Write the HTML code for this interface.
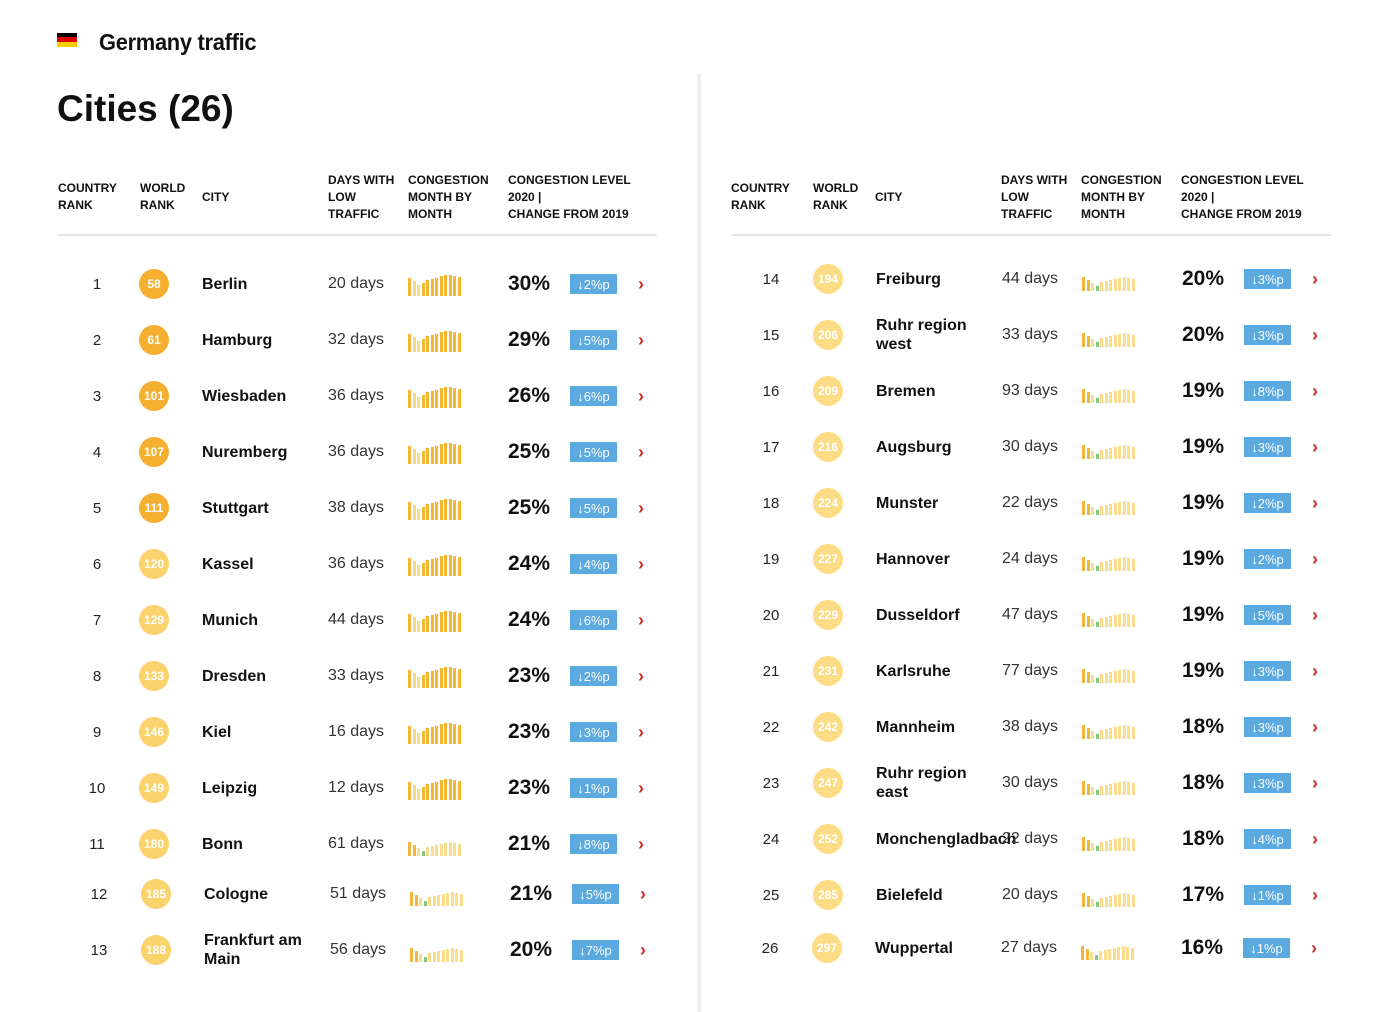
<!DOCTYPE html>
<html><head><meta charset="utf-8">
<style>
*{margin:0;padding:0;box-sizing:border-box}
body{width:1400px;height:1012px;background:#fff;font-family:"Liberation Sans",sans-serif;color:#111;position:relative;overflow:hidden}
.a{position:absolute}
.h{font-size:12px;font-weight:bold;line-height:17px;color:#111}
.col{position:absolute;top:0;width:700px;height:1012px}
.r{position:absolute;left:0;width:700px;height:40px}
.r>*{position:absolute;top:0;height:40px;display:flex;align-items:center}
.rk{left:77px;width:40px;justify-content:center;font-size:15px;color:#222}
.wc{left:139px;top:5px!important;width:30px;height:30px!important;border-radius:50%;justify-content:center;color:#fff;font-size:12px;font-weight:bold;background:#fad36d}
.rc .wc{background:#fcdc84}
.d .wc{background:#f5b030}
.ct{left:202px;font-size:16px;font-weight:bold;line-height:19px;width:120px}
.dy{left:328px;font-size:16px;color:#333}
.bars{left:408px;align-items:flex-end!important;gap:1.5px;height:30px!important;top:5px!important;padding-bottom:3px}
.bars i{display:block;width:3px;background:#f6c04a}
.pc{left:508px;font-size:21px;font-weight:bold}
.bd{left:570px;top:10px!important;height:20px!important;width:47px;background:#5aaae0;color:#fff;font-size:13px;justify-content:center}
.cv{left:638px;color:#d0302c;font-size:18px;font-weight:bold}
</style></head><body>
<div class="a" style="left:57px;top:33px;width:20px;height:4px;background:#000"></div>
<div class="a" style="left:57px;top:37px;width:20px;height:5px;background:#dd0000"></div>
<div class="a" style="left:57px;top:42px;width:20px;height:5px;background:#ffce00"></div>
<div class="a" style="left:99px;top:29px;font-size:23px;font-weight:bold;letter-spacing:-0.3px;transform:scaleX(0.95);transform-origin:left">Germany traffic</div>
<div class="a" style="left:57px;top:88px;font-size:37px;font-weight:bold">Cities (26)</div>
<div class="a" style="left:697px;top:74px;width:4px;height:938px;background:#eeeeee"></div>

<div class="col" style="left:0">
<div class="a h" style="left:58px;top:180px">COUNTRY<br>RANK</div>
<div class="a h" style="left:140px;top:180px">WORLD<br>RANK</div>
<div class="a h" style="left:202px;top:189px">CITY</div>
<div class="a h" style="left:328px;top:172px">DAYS WITH<br>LOW<br>TRAFFIC</div>
<div class="a h" style="left:408px;top:172px">CONGESTION<br>MONTH BY<br>MONTH</div>
<div class="a h" style="left:508px;top:172px">CONGESTION LEVEL<br>2020 |<br>CHANGE FROM 2019</div>
<div class="a" style="left:57px;top:234px;width:600px;height:2px;background:#e6e6e6"></div>

<div class="r d" style="top:264px"><span class="rk">1</span><span class="wc">58</span><span class="ct">Berlin</span><span class="dy">20 days</span><span class="bars"></span><span class="pc">30%</span><span class="bd">↓2%p</span><span class="cv">›</span></div>
<div class="r d" style="top:320px"><span class="rk">2</span><span class="wc">61</span><span class="ct">Hamburg</span><span class="dy">32 days</span><span class="bars"></span><span class="pc">29%</span><span class="bd">↓5%p</span><span class="cv">›</span></div>
<div class="r d" style="top:376px"><span class="rk">3</span><span class="wc">101</span><span class="ct">Wiesbaden</span><span class="dy">36 days</span><span class="bars"></span><span class="pc">26%</span><span class="bd">↓6%p</span><span class="cv">›</span></div>
<div class="r d" style="top:432px"><span class="rk">4</span><span class="wc">107</span><span class="ct">Nuremberg</span><span class="dy">36 days</span><span class="bars"></span><span class="pc">25%</span><span class="bd">↓5%p</span><span class="cv">›</span></div>
<div class="r d" style="top:488px"><span class="rk">5</span><span class="wc">111</span><span class="ct">Stuttgart</span><span class="dy">38 days</span><span class="bars"></span><span class="pc">25%</span><span class="bd">↓5%p</span><span class="cv">›</span></div>
<div class="r" style="top:544px"><span class="rk">6</span><span class="wc">120</span><span class="ct">Kassel</span><span class="dy">36 days</span><span class="bars"></span><span class="pc">24%</span><span class="bd">↓4%p</span><span class="cv">›</span></div>
<div class="r" style="top:600px"><span class="rk">7</span><span class="wc">129</span><span class="ct">Munich</span><span class="dy">44 days</span><span class="bars"></span><span class="pc">24%</span><span class="bd">↓6%p</span><span class="cv">›</span></div>
<div class="r" style="top:656px"><span class="rk">8</span><span class="wc">133</span><span class="ct">Dresden</span><span class="dy">33 days</span><span class="bars"></span><span class="pc">23%</span><span class="bd">↓2%p</span><span class="cv">›</span></div>
<div class="r" style="top:712px"><span class="rk">9</span><span class="wc">146</span><span class="ct">Kiel</span><span class="dy">16 days</span><span class="bars"></span><span class="pc">23%</span><span class="bd">↓3%p</span><span class="cv">›</span></div>
<div class="r" style="top:768px"><span class="rk">10</span><span class="wc">149</span><span class="ct">Leipzig</span><span class="dy">12 days</span><span class="bars"></span><span class="pc">23%</span><span class="bd">↓1%p</span><span class="cv">›</span></div>
<div class="r" style="top:824px"><span class="rk">11</span><span class="wc">180</span><span class="ct">Bonn</span><span class="dy">61 days</span><span class="bars g"></span><span class="pc">21%</span><span class="bd">↓8%p</span><span class="cv">›</span></div>
<div class="r" style="top:874px;left:2px"><span class="rk">12</span><span class="wc">185</span><span class="ct">Cologne</span><span class="dy">51 days</span><span class="bars g"></span><span class="pc">21%</span><span class="bd">↓5%p</span><span class="cv">›</span></div>
<div class="r" style="top:930px;left:2px"><span class="rk">13</span><span class="wc">188</span><span class="ct">Frankfurt am Main</span><span class="dy">56 days</span><span class="bars g"></span><span class="pc">20%</span><span class="bd">↓7%p</span><span class="cv">›</span></div>
</div>

<div class="col" style="left:674px">
<div class="a h" style="left:57px;top:180px">COUNTRY<br>RANK</div>
<div class="a h" style="left:139px;top:180px">WORLD<br>RANK</div>
<div class="a h" style="left:201px;top:189px">CITY</div>
<div class="a h" style="left:327px;top:172px">DAYS WITH<br>LOW<br>TRAFFIC</div>
<div class="a h" style="left:407px;top:172px">CONGESTION<br>MONTH BY<br>MONTH</div>
<div class="a h" style="left:507px;top:172px">CONGESTION LEVEL<br>2020 |<br>CHANGE FROM 2019</div>
<div class="a" style="left:57px;top:234px;width:600px;height:2px;background:#e6e6e6"></div>

<div class="r rc" style="top:259px"><span class="rk">14</span><span class="wc">194</span><span class="ct">Freiburg</span><span class="dy">44 days</span><span class="bars g"></span><span class="pc">20%</span><span class="bd">↓3%p</span><span class="cv">›</span></div>
<div class="r rc" style="top:315px"><span class="rk">15</span><span class="wc">206</span><span class="ct">Ruhr region west</span><span class="dy">33 days</span><span class="bars g"></span><span class="pc">20%</span><span class="bd">↓3%p</span><span class="cv">›</span></div>
<div class="r rc" style="top:371px"><span class="rk">16</span><span class="wc">209</span><span class="ct">Bremen</span><span class="dy">93 days</span><span class="bars g"></span><span class="pc">19%</span><span class="bd">↓8%p</span><span class="cv">›</span></div>
<div class="r rc" style="top:427px"><span class="rk">17</span><span class="wc">216</span><span class="ct">Augsburg</span><span class="dy">30 days</span><span class="bars g"></span><span class="pc">19%</span><span class="bd">↓3%p</span><span class="cv">›</span></div>
<div class="r rc" style="top:483px"><span class="rk">18</span><span class="wc">224</span><span class="ct">Munster</span><span class="dy">22 days</span><span class="bars g"></span><span class="pc">19%</span><span class="bd">↓2%p</span><span class="cv">›</span></div>
<div class="r rc" style="top:539px"><span class="rk">19</span><span class="wc">227</span><span class="ct">Hannover</span><span class="dy">24 days</span><span class="bars g"></span><span class="pc">19%</span><span class="bd">↓2%p</span><span class="cv">›</span></div>
<div class="r rc" style="top:595px"><span class="rk">20</span><span class="wc">229</span><span class="ct">Dusseldorf</span><span class="dy">47 days</span><span class="bars g"></span><span class="pc">19%</span><span class="bd">↓5%p</span><span class="cv">›</span></div>
<div class="r rc" style="top:651px"><span class="rk">21</span><span class="wc">231</span><span class="ct">Karlsruhe</span><span class="dy">77 days</span><span class="bars g"></span><span class="pc">19%</span><span class="bd">↓3%p</span><span class="cv">›</span></div>
<div class="r rc" style="top:707px"><span class="rk">22</span><span class="wc">242</span><span class="ct">Mannheim</span><span class="dy">38 days</span><span class="bars g"></span><span class="pc">18%</span><span class="bd">↓3%p</span><span class="cv">›</span></div>
<div class="r rc" style="top:763px"><span class="rk">23</span><span class="wc">247</span><span class="ct">Ruhr region east</span><span class="dy">30 days</span><span class="bars g"></span><span class="pc">18%</span><span class="bd">↓3%p</span><span class="cv">›</span></div>
<div class="r rc" style="top:819px"><span class="rk">24</span><span class="wc">252</span><span class="ct" style="width:auto;white-space:nowrap">Monchengladbach</span><span class="dy">22 days</span><span class="bars g"></span><span class="pc">18%</span><span class="bd">↓4%p</span><span class="cv">›</span></div>
<div class="r rc" style="top:875px"><span class="rk">25</span><span class="wc">285</span><span class="ct">Bielefeld</span><span class="dy">20 days</span><span class="bars g"></span><span class="pc">17%</span><span class="bd">↓1%p</span><span class="cv">›</span></div>
<div class="r rc" style="top:928px;left:-1px"><span class="rk">26</span><span class="wc">297</span><span class="ct">Wuppertal</span><span class="dy">27 days</span><span class="bars g"></span><span class="pc">16%</span><span class="bd">↓1%p</span><span class="cv">›</span></div>
</div>

<script>
var H1=[18,15,11,13,16,17,18,20,21,21,20,19];
var H2=[14,11,8,5,9,10,11,12,13,14,13,12];
document.querySelectorAll('.bars').forEach(function(b){
  var g=b.classList.contains('g');var H=g?H2:H1;var s='';
  for(var i=0;i<12;i++){
    var c=g?(i<2?'#f2b640':(i==3?'#86c77f':'#f8dd8e')):(i==1||i==2?'#f8d98a':'#f4b733');
    s+='<i style="height:'+H[i]+'px;background:'+c+'"></i>';
  }
  b.innerHTML=s;
});
</script>
</body></html>
